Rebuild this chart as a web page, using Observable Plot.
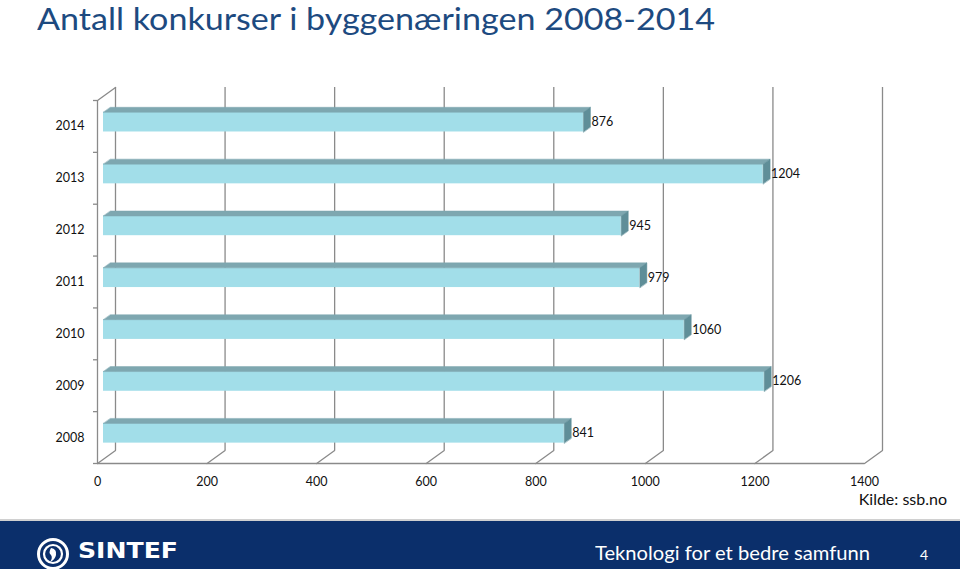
<!DOCTYPE html>
<html>
<head>
<meta charset="utf-8">
<script src="https://cdn.jsdelivr.net/npm/d3@7"></script>
<script src="https://cdn.jsdelivr.net/npm/@observablehq/plot@0.6"></script>
<style>
  html, body { margin: 0; padding: 0; background: #fff; }
  body { width: 960px; height: 569px; position: relative; overflow: hidden; font-family: Lato, "Open Sans", sans-serif; }
  #title { position: absolute; left: 37px; top: 0px; font-size: 31px; line-height: 37px; color: #1d4a80; white-space: nowrap; transform-origin: 0 0; }
  #chart { position: absolute; left: 0; top: 50px; }
  #source { position: absolute; right: 13px; top: 490px; font-size: 16px; line-height: 18px; color: #111; white-space: nowrap; }
  #footer { position: absolute; left: 0; top: 519px; width: 960px; height: 50px; background: #0b2f6b; border-top: 2px solid #d0d0d0; box-sizing: border-box; }
  #footer .tag { position: absolute; left: 595px; top: 20px; font-size: 20px; line-height: 22px; color: #fff; white-space: nowrap; transform-origin: 0 0; }
  #footer .page { position: absolute; left: 920px; top: 26px; font-size: 14px; line-height: 16px; color: #fff; }
  #footer .logo { position: absolute; left: 36px; top: 16px; }
  #footer .brand { position: absolute; left: 78px; top: 19px; font-family: "DejaVu Sans", sans-serif; font-weight: bold; font-size: 21px; line-height: 22px; color: #fff; transform-origin: 0 0; white-space: nowrap; }
</style>
</head>
<body>
<div id="title">Antall konkurser i byggenæringen 2008-2014</div>
<div id="chart"></div>
<div id="source">Kilde: ssb.no</div>
<div id="footer">
  <svg class="logo" width="34" height="34" viewBox="0 0 34 34">
    <circle cx="17" cy="17" r="14.5" fill="none" stroke="#fff" stroke-width="3"/>
    <circle cx="17" cy="17" r="9" fill="none" stroke="#fff" stroke-width="2.2"/>
    <path d="M15 11 q6 1 5 7 q-1 5 -6 7 q3 -4 1 -7 q-3 -2 0 -7z" fill="#fff"/>
  </svg>
  <div class="brand">SINTEF</div>
  <div class="tag">Teknologi for et bedre samfunn</div>
  <div class="page">4</div>
</div>
<script>
// ---- data ----
const years = ["2008", "2009", "2010", "2011", "2012", "2013", "2014"];
const counts = [841, 1206, 1060, 979, 945, 1204, 876];
const xTicks = [0, 200, 400, 600, 800, 1000, 1200, 1400];

// ---- layout ----
const W = 960, H = 469;
const mL = 97, mR = 96, mT = 50, mB = 56;
const xMax = 1400, nBands = years.length;
const kx = (W - mL - mR) / xMax;          // px per unit
const ky = (H - mT - mB) / nBands;        // px per band
// depth of the 3D box (px) and of the bars
const wallDX = 18, wallDY = 13;
const barOX = 6, barOY = 4.3, barDX = 7, barDY = 5;
const u = (px) => px / kx;                // px -> x units
const v = (px) => px / ky;                // px -> y units

const faceLo = 0.31, faceHi = 0.69;

const bars = years.map((y, i) => ({year: y, i, value: counts[i]}));

// 3D faces as polygons in data space
const topFaces = [], sideFaces = [];
bars.forEach(d => {
  const x0 = u(barOX), x1 = d.value + u(barOX);
  const yT = d.i + faceHi + v(barOY), yB = d.i + faceLo + v(barOY);
  const ddx = u(barDX), ddy = v(barDY);
  [[x0, yT], [x1, yT], [x1 + ddx, yT + ddy], [x0 + ddx, yT + ddy]]
    .forEach(([x, y]) => topFaces.push({id: d.year, x, y}));
  [[x1, yB], [x1, yT], [x1 + ddx, yT + ddy], [x1 + ddx, yB + ddy]]
    .forEach(([x, y]) => sideFaces.push({id: d.year, x, y}));
});

// gridlines: floor diagonals
const floorDiag = [];
xTicks.forEach(t => {
  floorDiag.push({id: t, x: t, y: 0});
  floorDiag.push({id: t, x: t + u(wallDX), y: v(wallDY)});
});
const wallTopDiag = [{x: 0, y: nBands}, {x: u(wallDX), y: nBands + v(wallDY)}];
const bandEdges = d3.range(0, nBands + 1);

const grid = "#8a8a8a";

const chart = Plot.plot({
  width: W, height: H,
  marginLeft: mL, marginRight: mR, marginTop: mT, marginBottom: mB,
  x: {domain: [0, xMax], axis: null},
  y: {domain: [0, nBands], axis: null},
  style: {fontFamily: "Lato, 'Open Sans', sans-serif", fontSize: "12.5px", overflow: "visible"},
  marks: [
    // back wall gridlines
    Plot.ruleX(xTicks, {x: d => d, y1: 0, y2: nBands, dx: wallDX, dy: -wallDY, stroke: grid, strokeWidth: 1.3}),
    // floor diagonals
    Plot.line(floorDiag, {x: "x", y: "y", z: "id", stroke: grid, strokeWidth: 1.3}),
    // floor front edge
    Plot.ruleY([0], {x1: 0, x2: xMax, stroke: grid, strokeWidth: 1.3}),
    // left wall front edge + top diagonal
    Plot.ruleX([0], {y1: 0, y2: nBands, stroke: grid, strokeWidth: 1.3}),
    Plot.line(wallTopDiag, {x: "x", y: "y", stroke: grid, strokeWidth: 1.3}),
    // left wall small ticks
    Plot.ruleY(bandEdges, {y: d => d, x1: -u(4), x2: 0, stroke: grid, strokeWidth: 1.3}),
    // bars: front face
    Plot.rect(bars, {x1: 0, x2: "value", y1: d => d.i + faceLo, y2: d => d.i + faceHi, dx: barOX, dy: -barOY, fill: "#a2dee9"}),
    // top face
    Plot.line(topFaces, {x: "x", y: "y", z: "id", fill: "#7ea7b0", stroke: "#7ea7b0", strokeWidth: 0.5, curve: "linear-closed"}),
    // side face
    Plot.line(sideFaces, {x: "x", y: "y", z: "id", fill: "#5f8e98", stroke: "#5f8e98", strokeWidth: 0.5, curve: "linear-closed"}),
    // value labels
    Plot.text(bars, {x: "value", y: d => d.i + (faceLo + faceHi) / 2, text: d => String(d.value), dx: barOX + barDX + 1, dy: -barOY, textAnchor: "start", fill: "#111", fontSize: 12.5}),
    // y tick labels
    Plot.text(bars, {x: 0, y: d => d.i + 0.5, text: "year", dx: -13, textAnchor: "end", fill: "#111", fontSize: 12.5}),
    // x tick labels
    Plot.text(xTicks, {x: d => d, y: 0, text: d => String(d), dy: 18, textAnchor: "middle", fill: "#111", fontSize: 12.5})
  ]
});
document.getElementById("chart").appendChild(chart);

// fit text widths to the reference
function fit(el, target) {
  const w = el.getBoundingClientRect().width;
  if (w > 0) el.style.transform = `scaleX(${target / w})`;
}
fit(document.getElementById("title"), 678);
fit(document.querySelector("#footer .tag"), 275);
fit(document.querySelector("#footer .brand"), 100);
</script>
</body>
</html>
